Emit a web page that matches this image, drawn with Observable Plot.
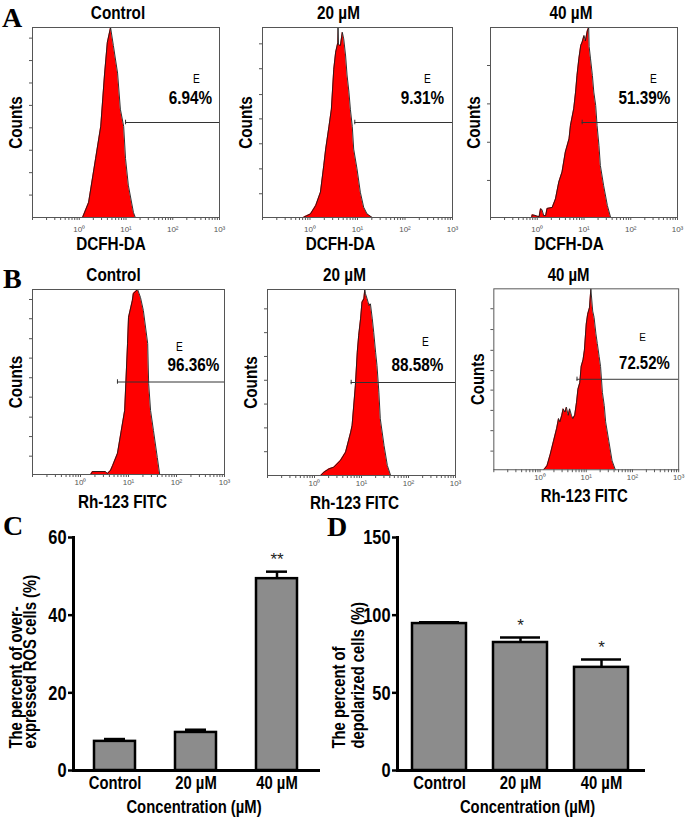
<!DOCTYPE html>
<html><head><meta charset="utf-8">
<script src="https://cdn.jsdelivr.net/npm/d3@7"></script>
<script src="https://cdn.jsdelivr.net/npm/@observablehq/plot@0.6"></script>
<style>
body{margin:0;background:#fff;}
#fig{position:relative;width:686px;height:818px;overflow:hidden;background:#fff;}
#fig > .pp{position:absolute;}
#letters{position:absolute;left:0;top:0;}
</style></head><body><div id="fig"></div>
<script>
// ---------- DATA ----------
const panelTitles = ["Control", "20 µM", "40 µM"];
const rosGatePct = ["6.94%", "9.31%", "51.39%"];
const mmpGatePct = ["96.36%", "88.58%", "72.52%"];
const gateLabel = "E";
const rosAxisLabel = "DCFH-DA";
const mmpAxisLabel = "Rh-123 FITC";
const countsLabel = "Counts";
const logDecades = [1, 10, 100, 1000];
const decadeLabels = ["10⁰", "10¹", "10²", "10³"];

// histograms: [log10 fluorescence, counts as % of modal count]
const histRosControl = [[0.07,0],[0.2,7.9],[0.35,31],[0.46,48],[0.54,75],[0.6,92],[0.67,100],[0.73,90.5],[0.82,76],[0.88,57],[0.95,48],[0.99,31],[1.05,17],[1.16,2.6],[1.2,0]];
const histRos20 = [[-0.13,0.2],[0.01,1.9],[0.12,6.3],[0.22,13.3],[0.29,27.4],[0.33,36],[0.4,48],[0.45,57],[0.5,78],[0.54,87],[0.585,92],[0.59,100],[0.6,91],[0.64,90.5],[0.68,97.5],[0.71,94],[0.75,85],[0.78,75],[0.82,66],[0.85,57],[0.89,48],[0.92,36],[0.99,25.6],[1.06,13.3],[1.13,5.4],[1.2,1.9],[1.31,0]];
const histRos40 = [[-0.12,0],[-0.11,1.4],[-0.06,1.2],[0,0.7],[0.04,0.5],[0.07,4.6],[0.1,4.2],[0.14,1],[0.18,1],[0.21,4.8],[0.32,5.3],[0.39,9.8],[0.46,18.6],[0.53,23.9],[0.6,34.4],[0.68,41.4],[0.71,48.4],[0.78,57.2],[0.82,66],[0.85,74.7],[0.89,83.5],[0.93,90.5],[0.96,92.3],[1.0,95.8],[1.03,93],[1.07,98.2],[1.1,100],[1.11,90],[1.14,83.5],[1.18,74.7],[1.21,66],[1.25,59],[1.28,48.4],[1.32,37.9],[1.35,27.4],[1.42,16.8],[1.5,6.3],[1.57,0]];
const histMmpControl = [[0.21,0],[0.25,1.6],[0.52,1.6],[0.56,0.5],[0.625,2.2],[0.67,4.9],[0.77,11.4],[0.85,23.8],[0.92,34.6],[0.98,70.8],[1.0,84.9],[1.08,94],[1.1,97.8],[1.19,100],[1.25,95.7],[1.31,88.6],[1.4,70.8],[1.42,49.2],[1.46,34.6],[1.52,23.8],[1.6,9.2],[1.65,0]];
const histMmp20 = [[0.13,0],[0.2,1.8],[0.31,3.6],[0.41,4.5],[0.55,8],[0.66,12.5],[0.77,23.3],[0.8,26.9],[0.87,48.4],[0.91,66.3],[0.94,75.3],[0.98,84.2],[1.01,93.2],[1.05,95],[1.07,100],[1.085,97.7],[1.12,95],[1.16,91.4],[1.19,92.3],[1.23,84.2],[1.26,77],[1.3,66.3],[1.33,59.1],[1.37,44.8],[1.4,30.5],[1.48,16.1],[1.55,5.4],[1.62,0]];
const histMmp40 = [[0.08,0],[0.15,2.2],[0.22,8.5],[0.29,15.7],[0.36,22.9],[0.4,28.3],[0.43,26.5],[0.47,30.1],[0.5,33.7],[0.54,31.9],[0.57,34.6],[0.61,30.1],[0.64,33.7],[0.68,30.1],[0.71,28.3],[0.75,30.1],[0.79,37.3],[0.82,44.5],[0.86,48.1],[0.89,57.1],[0.93,60.7],[0.96,66.1],[1.0,80.5],[1.03,85.9],[1.07,89.6],[1.1,100],[1.14,87.7],[1.17,84.2],[1.21,75.1],[1.24,69.7],[1.28,62.5],[1.31,57.1],[1.35,42.7],[1.39,35.5],[1.42,26.5],[1.49,15.7],[1.56,4.9],[1.63,0]];

// gate start (log10 fluorescence), gate level (% counts)
const rosGateStart = [0.99, 0.943, 0.961];
const mmpGateStart = [0.77, 0.78, 0.8];
const gateLevel = 50;

// count-axis tick values (% of modal count)
const countTicks = [
  [11.8,23.6,35.4,47.2,59,70.8,82.6,94.4],
  [12.5,25.6,38.8,51.9,64.7,78.3,91.4],
  [19.5,39.6,59.8,80],
  [9.9,20.5,31,41.8,52.3,62.9,73.4,84.2,94.6],
  [12.8,25.6,38.4,51.2,64,76.8,89.6],
  [10.3,21.6,32.8,44,54.8,66,77.5,89]
];

// bar charts
const concentrations = ["Control", "20 µM", "40 µM"];
const rosMean = [7.5, 9.8, 49.4];
const rosErr = [0.6, 0.7, 1.8];
const rosSig = ["", "", "**"];
const depolMean = [94.6, 82.4, 66.4];
const depolErr = [0.9, 3.2, 5.0];
const depolSig = ["", "*", "*"];
const rosTicks = [0, 20, 40, 60];
const depolTicks = [0, 50, 100, 150];
const concLabel = "Concentration (µM)";
const rosYLabel = ["The percent of over-", "expressed ROS cells (%)"];
const depolYLabel = ["The percent of", "depolarized cells (%)"];
const panelLetters = ["A", "B", "C", "D"];

// ---------- DRAW ----------
const fig = document.getElementById("fig");
const SANS = '"Liberation Sans",Arial,sans-serif';

const minorTicks = [];
for (const d of [0.1, 1, 10, 100]) for (let m = 1; m <= 9; m++) minorTicks.push(m * d);
minorTicks.push(1000);
const fmtDecade = v => { const i = logDecades.indexOf(v); return i >= 0 ? decadeLabels[i] : ""; };

// horizontally condense text glyphs (narrow typeface look)
function condense(svg, s, minSize) {
  svg.querySelectorAll("text").forEach(t => {
    const fs = parseFloat(t.getAttribute("font-size") || (t.parentNode && t.parentNode.getAttribute && t.parentNode.getAttribute("font-size")) || 20);
    if (fs < minSize) return;
    const tr = t.getAttribute("transform");
    if (tr) t.setAttribute("transform", tr + ` scale(${s},1)`);
    else {
      const x = parseFloat(t.getAttribute("x") || 0), y = parseFloat(t.getAttribute("y") || 0);
      t.setAttribute("transform", `translate(${x},${y}) scale(${s},1) translate(${-x},${-y})`);
    }
  });
}

function place(node, left, top) {
  const d = document.createElement("div");
  d.className = "pp"; d.style.left = left + "px"; d.style.top = top + "px";
  d.appendChild(node); fig.appendChild(d);
}

function hist(c) {
  const mL = 30, mT = 30, mR = 8, mB = 42;
  const data = c.data.map(([l, v]) => ({x: 10 ** l, y: v}));
  const plot = Plot.plot({
    width: c.w + mL + mR, height: c.h + mT + mB,
    marginLeft: mL, marginTop: mT, marginRight: mR, marginBottom: mB,
    x: {type: "log", domain: [0.1, 1000]},
    y: {domain: [0, 100]},
    style: {fontFamily: SANS, background: "transparent", overflow: "visible"},
    marks: [
      Plot.areaY(data, {x: "x", y: "y", fill: "#ff0000", curve: "linear"}),
      Plot.lineY(data, {x: "x", y: "y", stroke: "#1a1a1a", strokeWidth: 0.9}),
      Plot.frame({stroke: "#555", strokeWidth: 1}),
      Plot.ruleY([gateLevel], {x1: 10 ** c.gate, x2: 1000, stroke: "#333", strokeWidth: 1}),
      Plot.ruleX([10 ** c.gate], {y1: gateLevel - 1.2, y2: gateLevel + 1.2, stroke: "#333", strokeWidth: 1}),
      Plot.axisX({ticks: minorTicks, tickSize: 3, tickPadding: c.tp, tickFormat: fmtDecade, fontSize: 8, fill: "#555", stroke: "#555", label: null}),
      Plot.axisY({ticks: c.yt, tickSize: 3, tickFormat: () => "", stroke: "#555", label: null}),
      Plot.text([c.title], {frameAnchor: "top", dy: -14, dx: c.tdx, fontSize: 18, fontWeight: "bold", textAnchor: "middle", lineAnchor: "middle"}),
      Plot.text([countsLabel], {frameAnchor: "left", dx: -16, rotate: -90, fontSize: 18, fontWeight: "bold", textAnchor: "middle", lineAnchor: "middle"}),
      Plot.text([c.xlabel], {frameAnchor: "bottom", dy: c.xdy, dx: c.xdx, fontSize: 18, fontWeight: "bold", textAnchor: "middle", lineAnchor: "middle"}),
      Plot.text([gateLabel], {frameAnchor: "top-right", dx: c.edx, dy: c.edy, fontSize: 12, textAnchor: "middle", lineAnchor: "middle"}),
      Plot.text([c.pct], {frameAnchor: "top-right", dx: c.pdx, dy: c.pdy, fontSize: 18, fontWeight: "bold", textAnchor: "middle", lineAnchor: "middle"})
    ]
  });
  condense(plot, 0.85, 11);
  place(plot, c.left - mL, c.top - mT);
}

const rowA = [
  {left: 32, top: 27, w: 187, h: 190, data: histRosControl, tdx: -8, xdx: -15, edx: -23, pdx: -29},
  {left: 262, top: 27, w: 190, h: 190, data: histRos20, tdx: -19, xdx: -17, edx: -25, pdx: -30},
  {left: 490, top: 27, w: 187, h: 190, data: histRos40, tdx: -13, xdx: -15, edx: -24, pdx: -33}
];
rowA.forEach((c, i) => hist({...c, yt: countTicks[i], gate: rosGateStart[i], title: panelTitles[i], xlabel: rosAxisLabel, pct: rosGatePct[i], tp: 6, xdy: 27, edy: 52, pdy: 71}));

const rowB = [
  {left: 32, top: 289, w: 192, h: 185, data: histMmpControl, tdx: -15, xdx: -6, edx: -45, edy: 58, pdx: -31},
  {left: 267, top: 289, w: 188, h: 186, data: histMmp20, tdx: -17, xdx: -7, edx: -30, edy: 53, pdx: -38},
  {left: 494, top: 289, w: 189, h: 185, data: histMmp40, tdx: -18, xdx: -2, edx: -37, edy: 49, pdx: -35}
];
rowB.forEach((c, i) => hist({...c, yt: countTicks[3 + i], gate: mmpGateStart[i], title: panelTitles[i], xlabel: mmpAxisLabel, pct: mmpGatePct[i], tp: 2, xdy: 27.5, pdy: 76}));

function bars(c) {
  const mT = 30, mR = 12, mB = 50;
  const data = concentrations.map((k, i) => ({k, m: c.mean[i], e: c.err[i], s: c.sig[i]}));
  const plot = Plot.plot({
    width: c.mL + c.w + mR, height: mT + 233 + mB,
    marginLeft: c.mL, marginTop: mT, marginRight: mR, marginBottom: mB,
    x: {domain: concentrations, paddingInner: c.pi, paddingOuter: c.po},
    y: {domain: [0, c.ticks[c.ticks.length - 1]]},
    style: {fontFamily: SANS, background: "transparent", overflow: "visible"},
    marks: [
      Plot.ruleX(data, {x: "k", y1: "m", y2: d => d.m + d.e, stroke: "#000", strokeWidth: 2.5}),
      Plot.tickY(data, {x: "k", y: d => d.m + d.e, stroke: "#000", strokeWidth: 2.5, insetLeft: c.cap, insetRight: c.cap}),
      Plot.barY(data, {x: "k", y: "m", fill: "#8c8c8c", stroke: "#000", strokeWidth: 2.5}),
      Plot.text(data, {x: "k", y: d => d.m + d.e, text: "s", dy: -12, fontSize: 17, fill: "#222"}),
      Plot.frame({anchor: "left", stroke: "#000", strokeWidth: 3}),
      Plot.frame({anchor: "bottom", stroke: "#000", strokeWidth: 3}),
      Plot.axisY({ticks: c.ticks, tickSize: 5, tickPadding: 2, strokeWidth: 2.5, fontSize: 21, fontWeight: "bold", label: null}),
      Plot.axisX({tickSize: 0, tickPadding: 5, fontSize: 19, fontWeight: "bold", label: null}),
      Plot.text([concLabel], {frameAnchor: "bottom", dy: 36, dx: c.cdx, fontSize: 19, fontWeight: "bold", textAnchor: "middle", lineAnchor: "middle"}),
      Plot.text([c.ylab[0]], {frameAnchor: "bottom-left", dx: c.l1, dy: -22, rotate: -90, fontSize: 19, fontWeight: "bold", textAnchor: "start", lineAnchor: "middle"}),
      Plot.text([c.ylab[1]], {frameAnchor: "bottom-left", dx: c.l2, dy: -22, rotate: -90, fontSize: 19, fontWeight: "bold", textAnchor: "start", lineAnchor: "middle"})
    ]
  });
  condense(plot, 0.78, 18);
  place(plot, c.left - c.mL, 537 - mT);
}

bars({left: 73, mL: 73, w: 245, mean: rosMean, err: rosErr, sig: rosSig, ticks: rosTicks, pi: 0.5, po: 0.25, cap: 10, cdx: -2, ylab: rosYLabel, l1: -58, l2: -44});
bars({left: 397, mL: 70, w: 246, mean: depolMean, err: depolErr, sig: depolSig, ticks: depolTicks, pi: 0.33, po: 0.17, cap: 7, cdx: 7, ylab: depolYLabel, l1: -59, l2: -40});

// panel letters
const ns = "http://www.w3.org/2000/svg";
const svg = document.createElementNS(ns, "svg");
svg.setAttribute("id", "letters"); svg.setAttribute("width", 686); svg.setAttribute("height", 818);
const letterPos = [[2, 27], [3, 288], [3, 535], [327, 536]];
panelLetters.forEach((t, i) => {
  const e = document.createElementNS(ns, "text");
  e.setAttribute("x", letterPos[i][0]); e.setAttribute("y", letterPos[i][1]);
  e.setAttribute("font-family", '"Liberation Serif","Times New Roman",serif');
  e.setAttribute("font-weight", "bold"); e.setAttribute("font-size", 28);
  e.textContent = t; svg.appendChild(e);
});
fig.appendChild(svg);
</script></body></html>
